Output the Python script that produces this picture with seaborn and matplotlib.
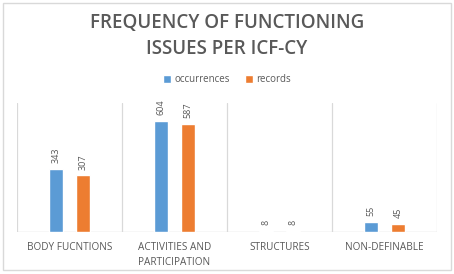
import matplotlib
matplotlib.use("Agg")
import matplotlib.pyplot as plt
import seaborn as sns
import pandas as pd
from matplotlib.patches import Rectangle

# data
categories = ["BODY FUCNTIONS", "ACTIVITIES AND\nPARTICIPATION", "STRUCTURES", "NON-DEFINABLE"]
occurrences = [343, 604, 8, 55]
records = [307, 587, 8, 45]
series = ["occurrences", "records"]
colors = ["#5B9BD5", "#ED7D31"]

df = pd.DataFrame({
    "category": categories * 2,
    "value": occurrences + records,
    "series": [series[0]] * len(categories) + [series[1]] * len(categories),
})

sns.set_theme(style="white")
plt.rcParams["font.family"] = ["Open Sans", "DejaVu Sans"]
text_gray = "#595959"
grid_gray = "#D9D9D9"

fig = plt.figure(figsize=(4.54, 2.74), dpi=100)
fig.patch.set_facecolor("white")
ax = fig.add_axes([17 / 454, 42 / 274, 420 / 454, 129 / 274])

sns.barplot(data=df, x="category", y="value", hue="series", palette=colors,
            saturation=1, width=0.52, gap=0.48, ax=ax, legend=True)

ax.set_ylim(0, 700)
ax.set_xlim(-0.5, 3.5)
for xv in [-0.5, 0.5, 1.5, 2.5, 3.5]:
    ax.axvline(xv, color=grid_gray, lw=0.9, zorder=0)
ax.axhline(0, color=grid_gray, lw=1.0, zorder=0)
for s in ax.spines.values():
    s.set_visible(False)
ax.set_yticks([])
ax.set_xlabel("")
ax.set_ylabel("")
ax.tick_params(axis="x", length=0, pad=7, labelsize=7.2, labelcolor=text_gray)
for lab in ax.get_xticklabels():
    lab.set_linespacing(1.55)
    lab.set_verticalalignment("top")

for cont in ax.containers:
    ax.bar_label(cont, rotation=90, padding=4, fontsize=6.5, color=text_gray)

# legend at the top
ax.get_legend().remove()
handles, labels = ax.get_legend_handles_labels()
fig.legend(handles, labels, loc="center", bbox_to_anchor=(0.5, 1 - 80 / 274),
           ncol=2, frameon=False, fontsize=7, handlelength=0.8, handleheight=0.8,
           handletextpad=0.3, columnspacing=1.6, labelcolor=text_gray)

fig.text(0.5, 1 - 36 / 274, "FREQUENCY OF FUNCTIONING\nISSUES PER ICF-CY",
         ha="center", va="center", fontsize=13.5, fontweight="semibold",
         color=text_gray, linespacing=1.4)

# light outer frame
fig.patches.append(Rectangle((3 / 454, 4 / 274), 448 / 454, 267 / 274,
                             transform=fig.transFigure, fill=False,
                             edgecolor=grid_gray, lw=1.0))

fig.savefig("out.png", dpi=100)
